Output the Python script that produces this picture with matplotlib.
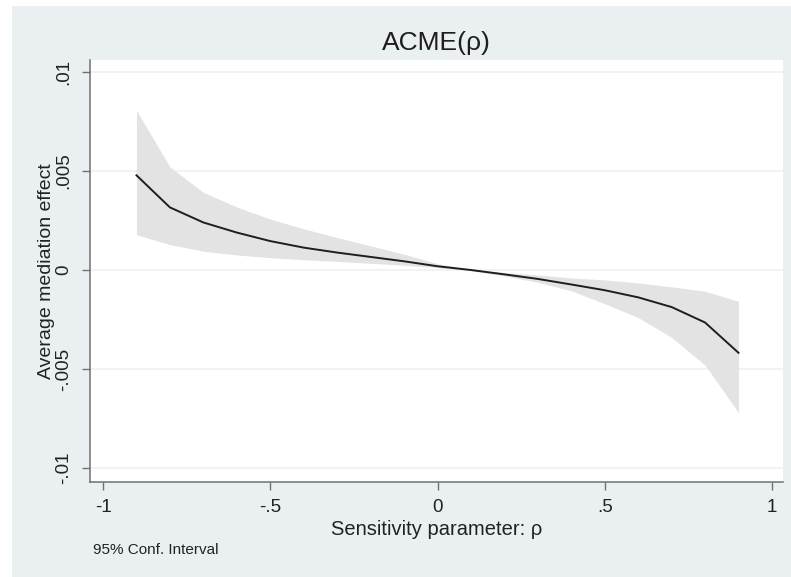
import numpy as np
import matplotlib
matplotlib.use("Agg")
import matplotlib.pyplot as plt
from matplotlib.patches import Rectangle

plt.rcParams['font.family'] = ['Liberation Sans', 'DejaVu Sans']

# sensitivity parameter rho and ACME(rho)
rho = [-0.9, -0.8, -0.7, -0.6, -0.5, -0.4, -0.3, -0.2, -0.1, 0.0,
       0.1, 0.2, 0.3, 0.4, 0.5, 0.6, 0.7, 0.8, 0.9]
acme = [0.00478, 0.00316, 0.00240, 0.00189, 0.00146, 0.00113, 0.00088, 0.00066, 0.00044, 0.00019,
        0.0, -0.00022, -0.00045, -0.00073, -0.00102, -0.00138, -0.00187, -0.00265, -0.00418]
ci_low = [0.00178, 0.00128, 0.00095, 0.00076, 0.00062, 0.00052, 0.00043, 0.00034, 0.00024, 0.00012,
          -0.00003, -0.00030, -0.00062, -0.00105, -0.00170, -0.00240, -0.00340, -0.00480, -0.00720]
ci_high = [0.00806, 0.00520, 0.00392, 0.00318, 0.00257, 0.00208, 0.00164, 0.00122, 0.00080, 0.00032,
           0.00003, -0.00012, -0.00025, -0.00040, -0.00050, -0.00065, -0.00085, -0.00107, -0.00158]

xticks = [-1, -0.5, 0, 0.5, 1]
xticklabels = ['-1', '-.5', '0', '.5', '1']
yticks = [-0.01, -0.005, 0, 0.005, 0.01]
yticklabels = ['-.01', '-.005', '0', '.005', '.01']

fig = plt.figure(figsize=(7.91, 5.77), dpi=100)
fig.patch.set_facecolor('white')
# stata-like outer graph region
fig.patches.append(Rectangle((12/791, 0), 1 - 12/791, 571/577, transform=fig.transFigure,
                             facecolor='#EAEFF2', edgecolor='none', zorder=-10))

ax = fig.add_axes([90/791, 95/577, 693/791, 422/577])
ax.set_zorder(1)
ax.set_facecolor('white')

ax.fill_between(rho, ci_low, ci_high, color='#E3E3E3', linewidth=0, zorder=2)
ax.plot(rho, acme, color='#1E1E1E', linewidth=1.4, zorder=3)

ax.set_xlim(-1.039, 1.033)
ax.set_ylim(-0.0107, 0.0106)
ax.set_xticks(xticks)
ax.set_xticklabels(xticklabels)
ax.set_yticks(yticks)
ax.set_yticklabels(yticklabels, rotation=90, va='center')
ax.yaxis.grid(True, color='#EDF1F3', linewidth=1.2, zorder=1)
ax.set_axisbelow(True)

for s in ['top', 'right']:
    ax.spines[s].set_visible(False)
for s in ['left', 'bottom']:
    ax.spines[s].set_color('#707070')
    ax.spines[s].set_linewidth(1.1)
ax.tick_params(axis='both', direction='out', length=6, width=1, color='#707070',
               labelsize=13.5, labelcolor='#222222')
ax.tick_params(axis='y', pad=7)
ax.tick_params(axis='x', pad=6)

ax.set_xlabel('Sensitivity parameter: ρ', fontsize=14.5, color='#222222', labelpad=3)
ax.set_ylabel('Average mediation effect', fontsize=14, color='#222222', va='center')
ax.yaxis.set_label_coords(-0.063, 0.5)
ax.set_title('ACME(ρ)', fontsize=19, color='#1E1E1E', pad=7)

fig.text(93/791, 1 - 550/577, '95% Conf. Interval', fontsize=11, color='#222222', va='center')

fig.savefig('out.png', dpi=100, facecolor=fig.get_facecolor())
